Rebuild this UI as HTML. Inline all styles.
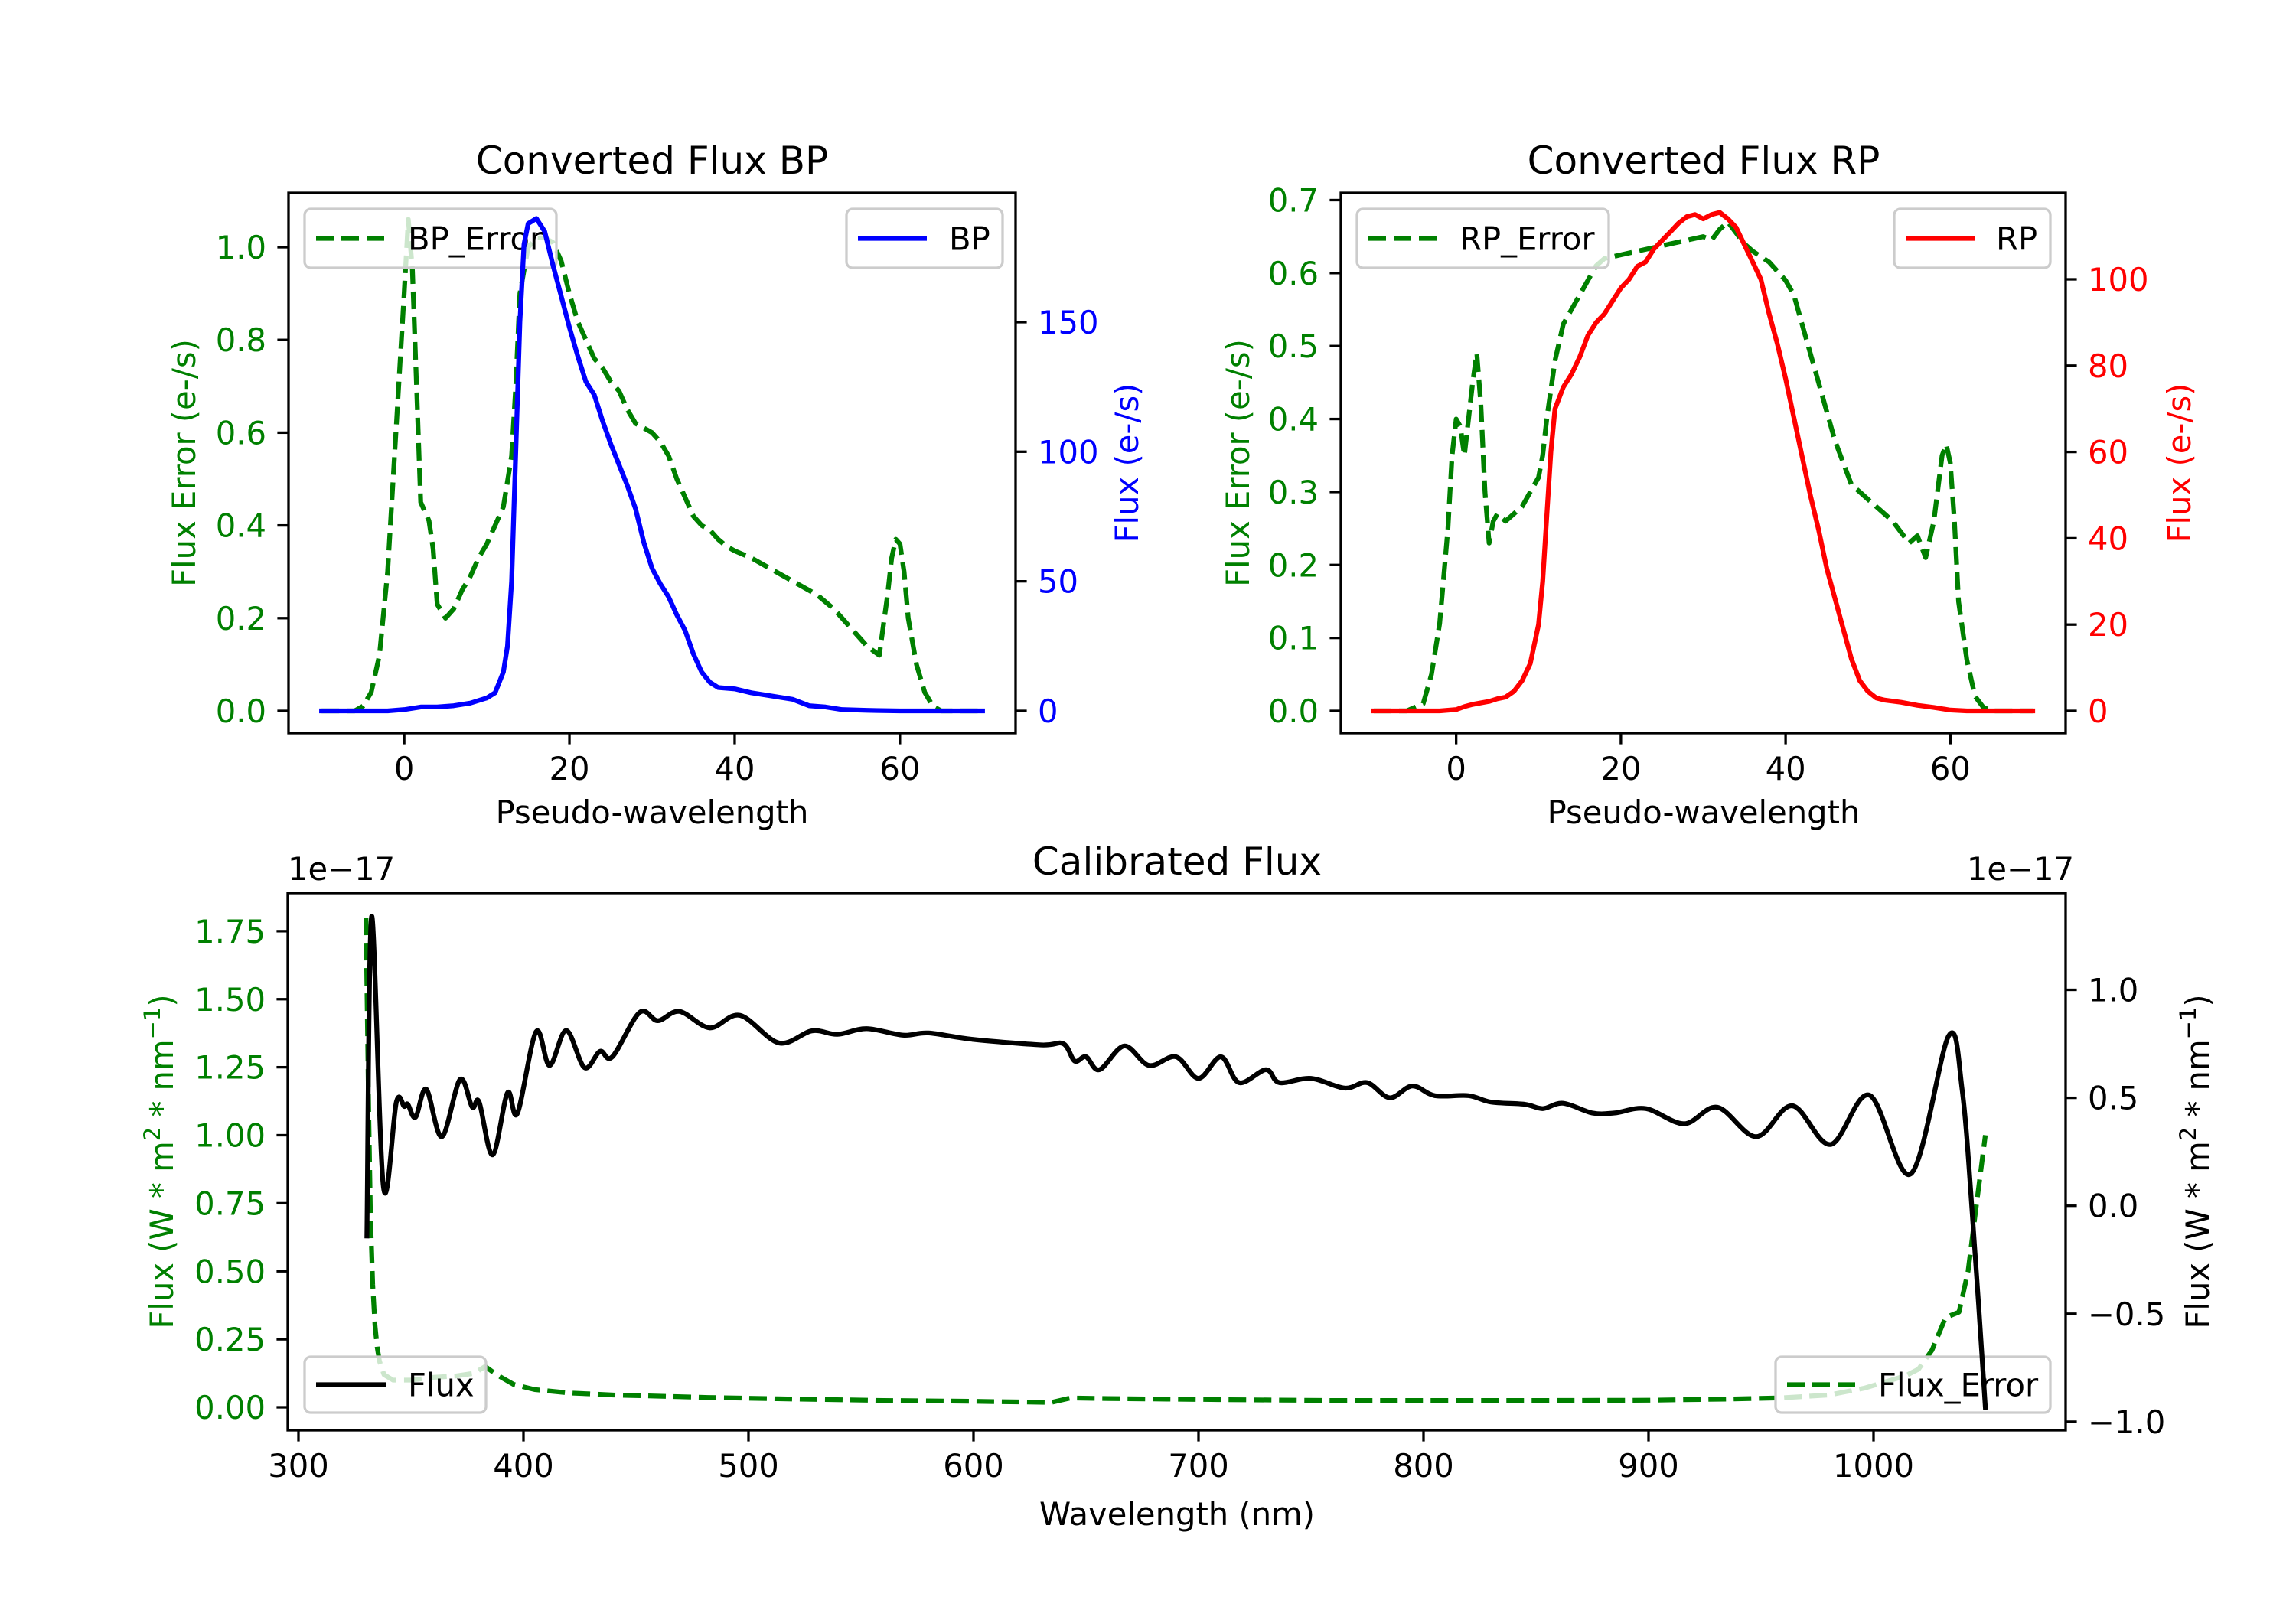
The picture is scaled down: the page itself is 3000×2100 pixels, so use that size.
<!DOCTYPE html>
<html><head><meta charset="utf-8">
<style>
html,body{margin:0;padding:0;background:#fff;}
svg{display:block;}
text{font-family:"DejaVu Sans","Liberation Sans",sans-serif;}
</style></head>
<body>
<svg id="fig" xmlns="http://www.w3.org/2000/svg" width="3000" height="2100" viewBox="0 0 3000 2100"></svg>
<script>
// ---------- data ----------
const bpX=[-10,-2,0,2,4,6,8,10,11,12,12.5,13,13.5,14,14.5,15,16,17,18,19,20,21,22,23,24,25,26,27,28,29,30,31,32,33,34,35,36,37,38,40,42,44,47,49,51,53,56,60,70];
const bpFlux=[0,0,0.5,1.5,1.5,2,3,5,7,15,25,50,100,150,180,188,190,185,172,160,148,137,127,122,112,103,95,87,78,65,55,49,44,37,31,22,15,11,9,8.5,7,6,4.5,2,1.5,0.5,0.2,0,0];
const bpErrX=[-10,-6,-5,-4,-3,-2,-1,0,0.5,1,1.5,2,3,3.5,4,5,6,7,8,9,10,11,12,13,13.5,14,15,16,17,18,19,20,21,22,23,24,25,26,27,28,29,30,31,32,33,34,35,36,37,38,39,40,42,44,45,47,48,50,52,54,56,57.5,58.5,59,59.5,60,60.5,61,62,63,64,65,70];
const bpErr=[0,0,0.01,0.04,0.12,0.3,0.6,0.9,1.06,0.95,0.7,0.45,0.41,0.35,0.23,0.2,0.22,0.26,0.29,0.33,0.36,0.4,0.44,0.55,0.7,0.9,1.0,1.02,1.02,1.01,0.97,0.9,0.84,0.8,0.76,0.74,0.71,0.69,0.65,0.62,0.61,0.6,0.58,0.55,0.5,0.46,0.42,0.4,0.39,0.37,0.355,0.345,0.33,0.31,0.3,0.28,0.27,0.25,0.22,0.18,0.14,0.12,0.25,0.33,0.37,0.36,0.3,0.2,0.1,0.04,0.01,0,0];
const rpX=[-10,-2,0,1,2,4,5,6,7,8,9,10,10.5,11,11.5,12,13,14,15,16,17,18,19,20,21,22,23,24,25,26,27,28,29,30,31,32,33,34,35,36,37,38,39,40,41,42,43,44,45,46,47,48,49,50,51,52,54,56,58,60,62,70];
const rpFlux=[0,0,0.3,1,1.5,2.2,2.8,3.2,4.5,7,11,20,30,45,60,70,75,78,82,87,90,92,95,98,100,103,104,107,109,111,113,114.5,115,114,115,115.5,114,112,108,104,100,92,85,77,68,59,50,42,33,26,19,12,7,4.5,3,2.5,2,1.3,0.8,0.2,0,0];
const rpErrX=[-10,-6,-4,-3,-2,-1,-0.5,0,0.5,1,1.5,2,2.5,3,3.5,4,4.5,5,6,7,8,9,10,10.5,11,12,13,14,15,16,17,18,20,22,24,26,28,30,31,32,33,34,35,36,38,40,41,42,43,44,45,46,47,48,49,50,52,53,54,55,56,57,58,59,59.5,60,60.5,61,62,63,64,65,70];
const rpErr=[0,0,0.01,0.05,0.12,0.25,0.35,0.4,0.39,0.35,0.4,0.45,0.49,0.42,0.3,0.23,0.26,0.27,0.26,0.27,0.28,0.3,0.32,0.35,0.4,0.48,0.53,0.55,0.57,0.59,0.61,0.62,0.625,0.63,0.635,0.64,0.645,0.65,0.645,0.66,0.67,0.655,0.64,0.63,0.615,0.59,0.57,0.53,0.49,0.45,0.41,0.37,0.34,0.31,0.3,0.29,0.27,0.26,0.245,0.23,0.24,0.21,0.26,0.35,0.365,0.34,0.26,0.15,0.07,0.02,0.005,0,0];
const calX=[330.4,332.5,337.8,343.5,347,348.6,352,356.8,363.7,371.8,377.2,380.3,386.3,392.9,397.3,405.6,411.6,419,427.1,434,439.5,451.6,459.7,469.3,482.8,496.2,513.5,528.2,539.5,552.5,568.7,580,600,630,640,645,650,656,667,678,690,700,710,718,730,736,750,765,775,785,795,805,820,830,845,853,862,875,885,898.8,915.8,930.6,947.9,963.9,980.9,998.2,1016.6,1033.4,1039.4,1044.3,1049.7];
const calFlux=[-0.14,1.34,0.085,0.48,0.46,0.47,0.41,0.54,0.32,0.585,0.457,0.48,0.236,0.523,0.428,0.806,0.65,0.812,0.64,0.715,0.69,0.895,0.857,0.9,0.824,0.882,0.754,0.81,0.794,0.82,0.79,0.80,0.77,0.745,0.75,0.67,0.69,0.63,0.74,0.65,0.69,0.59,0.69,0.57,0.63,0.57,0.59,0.545,0.57,0.50,0.555,0.51,0.51,0.48,0.47,0.45,0.475,0.43,0.43,0.45,0.38,0.456,0.32,0.463,0.284,0.512,0.148,0.787,0.537,-0.096,-0.933];
const calErrX=[330,331,332,333,334,335,336,338,342,350,360,370,378,383,388,395.6,405,420,440,482,520,560,600,634.7,643,660,708.8,760,800,850,900,935.7,960,980,995.8,1014,1020,1026,1032,1038,1042,1045.5,1049.7];
const calErr=[1.8,1.2,0.7,0.45,0.3,0.22,0.17,0.12,0.1,0.1,0.11,0.115,0.125,0.15,0.12,0.084,0.065,0.053,0.045,0.036,0.03,0.025,0.022,0.018,0.034,0.032,0.028,0.025,0.025,0.025,0.026,0.03,0.035,0.045,0.07,0.115,0.14,0.21,0.33,0.35,0.5,0.73,1.0];
const xTicksTop=[0,20,40,60];
const bpLeftTicks=[0,0.2,0.4,0.6,0.8,1.0];
const bpLeftLabels=["0.0","0.2","0.4","0.6","0.8","1.0"];
const bpRightTicks=[0,50,100,150];
const rpLeftTicks=[0,0.1,0.2,0.3,0.4,0.5,0.6,0.7];
const rpLeftLabels=["0.0","0.1","0.2","0.3","0.4","0.5","0.6","0.7"];
const rpRightTicks=[0,20,40,60,80,100];
const calXTicks=[300,400,500,600,700,800,900,1000];
const calLeftTicks=[0,0.25,0.5,0.75,1.0,1.25,1.5,1.75];
const calLeftLabels=["0.00","0.25","0.50","0.75","1.00","1.25","1.50","1.75"];
const calRightTicks=[-1,-0.5,0,0.5,1];
const calRightLabels=["\u22121.0","\u22120.5","0.0","0.5","1.0"];

// ---------- scales ----------
const bpx=d=>377+(d+14)*950/88, bpyL=v=>929-v*606, bpyR=v=>929-v*3.387;
const rpx=d=>1752+(d+14)*947/88, rpyL=v=>929-v*953.6, rpyR=v=>929-v*5.64;
const cx=n=>390+(n-300)*2.94, cyL=v=>1839-v*355.5, cyR=v=>1575.7-v*282.2;

const NS="http://www.w3.org/2000/svg";
const svg=document.getElementById('fig');
function el(tag,attrs,parent){const e=document.createElementNS(NS,tag);for(const k in attrs)e.setAttribute(k,attrs[k]);(parent||svg).appendChild(e);return e;}
function txt(s,attrs,parent){const t=el('text',attrs,parent);t.textContent=s;return t;}
function pathD(xs,ys,fx,fy){return xs.map((x,i)=>(i?'L':'M')+fx(x).toFixed(1)+' '+fy(ys[i]).toFixed(1)).join(' ');}
function smoothD(xs,ys,fx,fy){
  const P=xs.map((x,i)=>[fx(x),fy(ys[i])]);
  let d='M'+P[0][0].toFixed(1)+' '+P[0][1].toFixed(1);
  for(let i=0;i<P.length-1;i++){
    const p0=P[Math.max(0,i-1)],p1=P[i],p2=P[i+1],p3=P[Math.min(P.length-1,i+2)];
    const c1=[p1[0]+(p2[0]-p0[0])/6,p1[1]+(p2[1]-p0[1])/6];
    const c2=[p2[0]-(p3[0]-p1[0])/6,p2[1]-(p3[1]-p1[1])/6];
    d+=` C${c1[0].toFixed(1)} ${c1[1].toFixed(1)} ${c2[0].toFixed(1)} ${c2[1].toFixed(1)} ${p2[0].toFixed(1)} ${p2[1].toFixed(1)}`;
  }
  return d;
}
const GREEN="#008000";

function line(xs,ys,fx,fy,color,dashed,smooth){
  const p=el('path',{d:smooth?smoothD(xs,ys,fx,fy):pathD(xs,ys,fx,fy),fill:'none',stroke:color,'stroke-width':6.25,'stroke-linejoin':'round','stroke-linecap':dashed?'butt':'square'});
  if(dashed)p.setAttribute('stroke-dasharray','23 10');
  return p;
}
function legend(x0,x1,y0,y1,label,color,dashed,lx0,lx1,tx){
  const g=el('g',{});
  el('rect',{x:x0,y:y0,width:x1-x0,height:y1-y0,rx:8,fill:'#fff','fill-opacity':0.8,stroke:'#cccccc','stroke-width':3.3},g);
  const ym=(y0+y1)/2;
  const l=el('line',{x1:lx0,x2:lx1,y1:ym,y2:ym,stroke:color,'stroke-width':6.25},g);
  if(dashed)l.setAttribute('stroke-dasharray','23 10');
  txt(label,{x:tx,y:ym+15,'font-size':41.7,fill:'#000'},g);
  return g;
}
function frame(x0,x1,y0,y1){return el('rect',{x:x0,y:y0,width:x1-x0,height:y1-y0,fill:'none',stroke:'#000','stroke-width':3.3});}
function xticks(vals,labels,fx,yb,g){vals.forEach((v,i)=>{const X=fx(v);el('line',{x1:X,x2:X,y1:yb,y2:yb+14.6,stroke:'#000','stroke-width':3.3},g);txt(labels[i],{x:X,y:yb+61,'text-anchor':'middle','font-size':41.7,fill:'#000'},g);});}
function yticks(vals,labels,fy,xa,side,color,g){vals.forEach((v,i)=>{const Y=fy(v);const dx=side<0?-14.6:14.6;el('line',{x1:xa,x2:xa+dx,y1:Y,y2:Y,stroke:'#000','stroke-width':3.3},g);txt(labels[i],{x:xa+(side<0?-29:29),y:Y+15,'text-anchor':side<0?'end':'start','font-size':41.7,fill:color},g);});}
function ylabel(s,x,y,color,g){return txt(s,{x:x,y:y,'text-anchor':'middle','font-size':41.7,fill:color,transform:`rotate(-90 ${x} ${y})`},g);}

// ---------- BP panel ----------
const gBP=el('g',{});


const bpErrLine=line(bpErrX,bpErr,bpx,bpyL,GREEN,true);gBP.appendChild(bpErrLine);


const lgBPE=legend(398,727,273,350,'BP_Error',GREEN,true,413,504,533);gBP.appendChild(lgBPE);


const lgBP=legend(1106,1310,273,350,'BP','#0000ff',false,1121,1211,1240);gBP.appendChild(lgBP);


const bpLine=line(bpX,bpFlux,bpx,bpyR,'#0000ff',false);gBP.appendChild(bpLine);


gBP.appendChild(frame(377,1327,252,958));
xticks(xTicksTop,xTicksTop.map(String),bpx,958,gBP);
yticks(bpLeftTicks,bpLeftLabels,bpyL,377,-1,GREEN,gBP);
yticks(bpRightTicks,bpRightTicks.map(String),bpyR,1327,1,'#0000ff',gBP);
const t1=txt('Converted Flux BP',{x:852,y:227,'text-anchor':'middle','font-size':50,fill:'#000'},gBP);


const xl1=txt('Pseudo-wavelength',{x:852,y:1076,'text-anchor':'middle','font-size':41.7,fill:'#000'},gBP);


const yl1=ylabel('Flux Error (e-/s)',255,605,GREEN,gBP);


const yr1=ylabel('Flux (e-/s)',1487,605,'#0000ff',gBP);



// ---------- RP panel ----------
const gRP=el('g',{});


const rpErrLine=line(rpErrX,rpErr,rpx,rpyL,GREEN,true);gRP.appendChild(rpErrLine);


const lgRPE=legend(1773,2102,273,350,'RP_Error',GREEN,true,1788,1879,1907);gRP.appendChild(lgRPE);


const lgRP=legend(2475,2679,273,350,'RP','#ff0000',false,2491,2581,2608);gRP.appendChild(lgRP);


const rpLine=line(rpX,rpFlux,rpx,rpyR,'#ff0000',false);gRP.appendChild(rpLine);


gRP.appendChild(frame(1752,2699,252,958));
xticks(xTicksTop,xTicksTop.map(String),rpx,958,gRP);
yticks(rpLeftTicks,rpLeftLabels,rpyL,1752,-1,GREEN,gRP);
yticks(rpRightTicks,rpRightTicks.map(String),rpyR,2699,1,'#ff0000',gRP);
const t2=txt('Converted Flux RP',{x:2226,y:227,'text-anchor':'middle','font-size':50,fill:'#000'},gRP);


const xl2=txt('Pseudo-wavelength',{x:2226,y:1076,'text-anchor':'middle','font-size':41.7,fill:'#000'},gRP);


const yl2=ylabel('Flux Error (e-/s)',1632,605,GREEN,gRP);


const yr2=ylabel('Flux (e-/s)',2862,605,'#ff0000',gRP);



// ---------- Calibrated panel ----------
const gC=el('g',{});


const cErrLine=line(calErrX,calErr,cx,cyL,GREEN,true);gC.appendChild(cErrLine);


const lgF=legend(398,635,1773,1846,'Flux','#000',false,413,504,533);gC.appendChild(lgF);


const lgFE=legend(2320,2679,1773,1846,'Flux_Error',GREEN,true,2335,2425,2454);gC.appendChild(lgFE);


const cLine=line(calX,calFlux,cx,cyR,'#000',false,true);gC.appendChild(cLine);


gC.appendChild(frame(376,2699,1167,1869));
xticks(calXTicks,calXTicks.map(String),cx,1869,gC);
yticks(calLeftTicks,calLeftLabels,cyL,376,-1,GREEN,gC);
yticks(calRightTicks,calRightLabels,cyR,2699,1,'#000',gC);
const t3=txt('Calibrated Flux',{x:1538,y:1143,'text-anchor':'middle','font-size':50,fill:'#000'},gC);


const o1=txt('1e\u221217',{x:376,y:1150,'font-size':41.7,fill:'#000'},gC);


const o2=txt('1e\u221217',{x:2710,y:1150,'text-anchor':'end','font-size':41.7,fill:'#000'},gC);


const xl3=txt('Wavelength (nm)',{x:1538,y:1993,'text-anchor':'middle','font-size':41.7,fill:'#000'},gC);


function unitLabel(x,y,color){
  const t=el('text',{x:x,y:y,'text-anchor':'middle','font-size':41.7,fill:color,transform:`rotate(-90 ${x} ${y})`},gC);
  const parts=[['Flux (W * m',0],['2',1],[' * nm',0],['\u22121',1],[')',0]];
  parts.forEach(p=>{const s=document.createElementNS(NS,'tspan');s.textContent=p[0];if(p[1]){s.setAttribute('font-size','29');s.setAttribute('baseline-shift','super');}t.appendChild(s);});
  return t;
}
const yl3=unitLabel(226,1518,GREEN);


const yr3=unitLabel(2886,1518,'#000');


</script>
</body></html>
